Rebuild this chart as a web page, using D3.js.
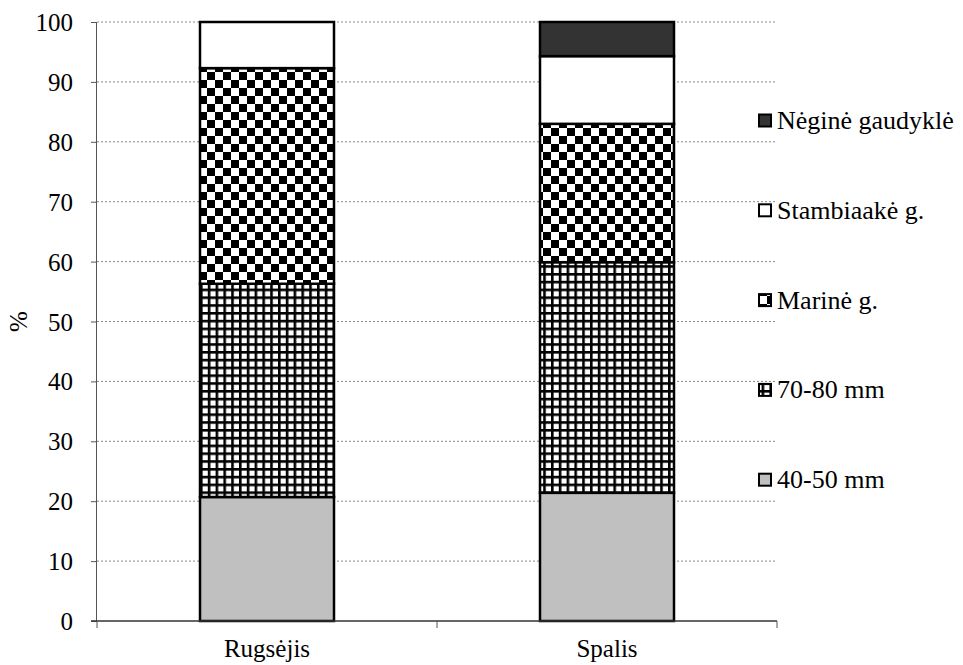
<!DOCTYPE html>
<html><head><meta charset="utf-8">
<script src="https://cdn.jsdelivr.net/npm/d3@7"></script>
<style>body{margin:0;background:#fff}svg{display:block}svg text{font-family:"Liberation Serif","Times New Roman",serif !important}</style>
</head><body>
<script>
const categories = ["Rugsėjis", "Spalis"];
const seriesNames = ["40-50 mm", "70-80 mm", "Marinė g.", "Stambiaakė g.", "Nėginė gaudyklė"];
const s4050 = [20.7, 21.4];
const s7080 = [35.6, 38.5];
const sMarine = [36.0, 23.1];
const sStambi = [7.7, 11.3];
const sNegine = [0, 5.7];
const yTicks = [0,10,20,30,40,50,60,70,80,90,100];

const W = 963, H = 665;
const m = {left: 97, top: 22, right: 186, bottom: 44};
const FS = 25;
const svg = d3.select("body").append("svg").attr("width", W).attr("height", H);
const defs = svg.append("defs");

// patterns
const chk = defs.append("pattern").attr("id","chk").attr("patternUnits","userSpaceOnUse")
  .attr("width",16).attr("height",16).attr("x",199).attr("y",0);
chk.append("rect").attr("width",16).attr("height",16).attr("fill","#fff");
chk.append("rect").attr("width",8).attr("height",8).attr("fill","#000");
chk.append("rect").attr("x",8).attr("y",8).attr("width",8).attr("height",8).attr("fill","#000");

const grd = defs.append("pattern").attr("id","grd").attr("patternUnits","userSpaceOnUse")
  .attr("width",7.8).attr("height",7.8).attr("x",200).attr("y",0);
grd.append("rect").attr("width",7.8).attr("height",7.8).attr("fill","#000");
grd.append("rect").attr("x",2.6).attr("y",2.6).attr("width",5.2).attr("height",5.2).attr("fill","#fff");

const fills = ["#c0c0c0", "url(#grd)", "url(#chk)", "#ffffff", "#333333"];
const data = categories.map((c,i)=>({cat:c, "40-50 mm":s4050[i], "70-80 mm":s7080[i], "Marinė g.":sMarine[i], "Stambiaakė g.":sStambi[i], "Nėginė gaudyklė":sNegine[i]}));
const stack = d3.stack().keys(seriesNames)(data);

const x = d3.scaleBand().domain(categories).range([m.left, W - m.right]).paddingInner(0.6).paddingOuter(0.3);
const xOuter = d3.scaleBand().domain(categories).range([m.left, W - m.right]);
const y = d3.scaleLinear().domain([0,100]).range([H - m.bottom, m.top]);

// gridlines
svg.append("g").selectAll("line").data(yTicks.slice(1)).join("line")
  .attr("x1", m.left).attr("x2", W - m.right)
  .attr("y1", d=>y(d)).attr("y2", d=>y(d))
  .attr("stroke","#888").attr("stroke-width",1).attr("stroke-dasharray","2,2");

// bars
const g = svg.append("g");
stack.forEach((s,si)=>{
  g.selectAll(null).data(s.filter(d=>d[1]-d[0]>0)).join("rect")
    .attr("x", d=>x(d.data.cat)+1).attr("width", x.bandwidth()-2)
    .attr("y", d=>y(d[1])).attr("height", d=>y(d[0])-y(d[1]))
    .attr("fill", fills[si]).attr("stroke","#000").attr("stroke-width",2.5);
});

// y axis
const ya = svg.append("g").attr("transform",`translate(${m.left},0)`)
  .call(d3.axisLeft(y).tickValues(yTicks).tickSize(6).tickPadding(24 - 6));
ya.attr("font-family", null).attr("font-size", null);
ya.select(".domain").attr("stroke","#555").attr("d",`M-0.5,${y(100)}V${y(0)}`);
ya.selectAll(".tick line").attr("stroke","#555");
ya.selectAll("text").attr("font-size",FS).attr("fill","#000").attr("dy","0.34em");

// x axis
const xa = svg.append("g").attr("transform",`translate(0,${y(0)})`);
xa.append("line").attr("x1",m.left-6).attr("x2",W-m.right).attr("y1",0).attr("y2",0).attr("stroke","#333").attr("stroke-width",1.5);
const xt = [m.left, ...categories.map(c=>xOuter(c)+xOuter.bandwidth())];
xa.selectAll(".xt").data(xt).join("line").attr("x1",d=>d).attr("x2",d=>d).attr("y1",0).attr("y2",7).attr("stroke","#555");
xa.selectAll(".xl").data(categories).join("text")
  .attr("x", c=>xOuter(c)+xOuter.bandwidth()/2).attr("y",36)
  .attr("text-anchor","middle").attr("font-size",FS).text(d=>d);

// y title
svg.append("text").attr("transform",`translate(27,${(y(0)+y(100))/2}) rotate(-90)`)
  .attr("text-anchor","middle").attr("font-size",FS).text("%");

// legend
const legItems = seriesNames.map((n,i)=>({n, f:fills[i]})).reverse();
const lg = svg.append("g");
legItems.forEach((d,i)=>{
  const yy = 121 + i*89.8;
  lg.append("rect").attr("x",759).attr("y",yy-6.5).attr("width",12).attr("height",12)
    .attr("fill", d.f).attr("stroke","#000").attr("stroke-width",2);
  lg.append("text").attr("x",777).attr("y",yy+8).attr("font-size",26).text(d.n);
});
</script>
</body></html>
